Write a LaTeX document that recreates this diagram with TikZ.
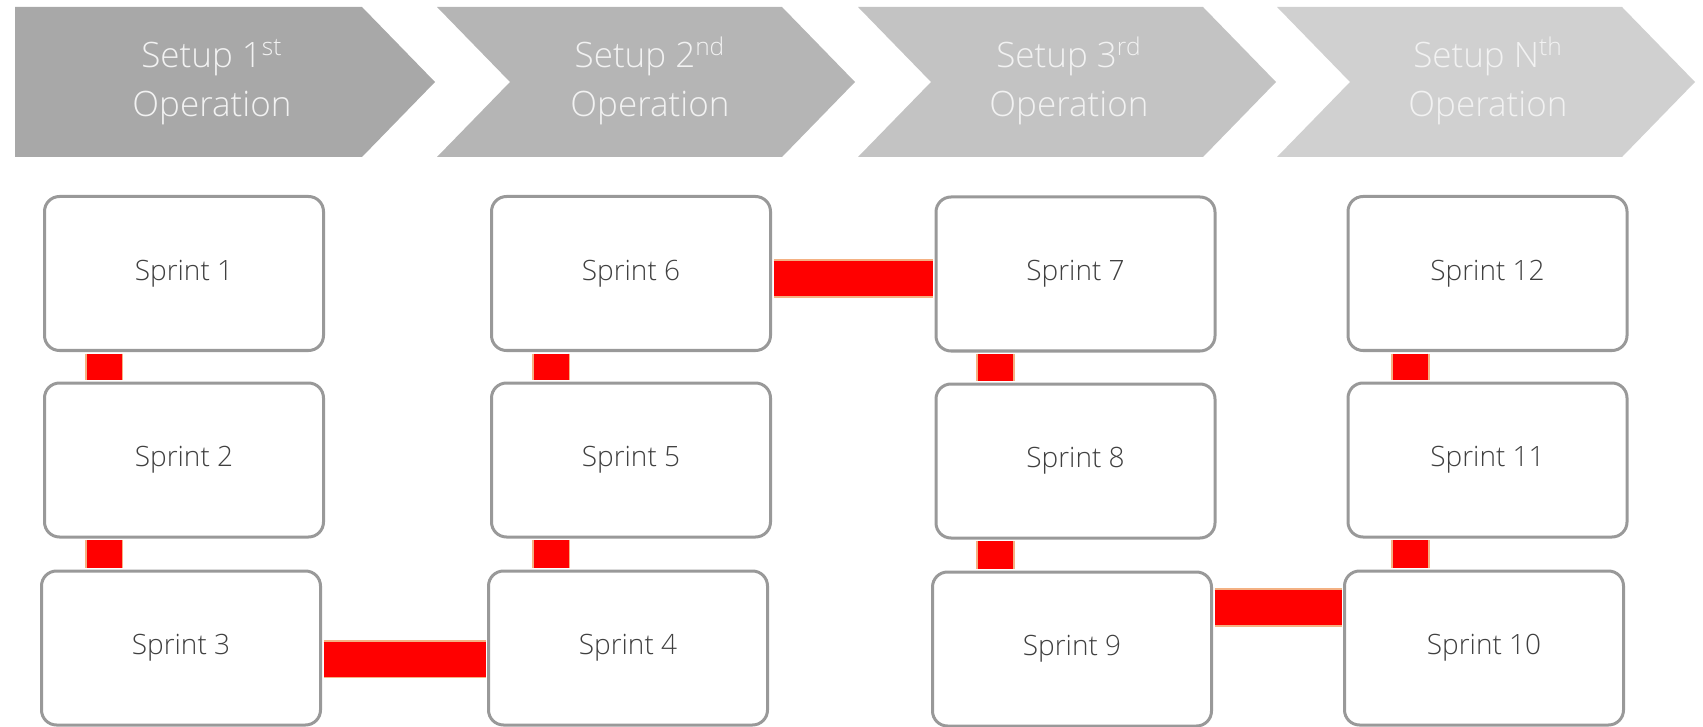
\documentclass[tikz,border=0pt]{standalone}
\usepackage{fontspec}
\IfFontExistsTF{Open Sans Light}{\setmainfont{Open Sans Light}}{\setmainfont{Open Sans}}
\usetikzlibrary{calc}

\definecolor{chevA}{HTML}{A8A8A8}
\definecolor{chevB}{HTML}{B5B5B5}
\definecolor{chevC}{HTML}{C3C3C3}
\definecolor{chevD}{HTML}{D0D0D0}
\definecolor{headtxt}{HTML}{F2F2F2}
\definecolor{boxgray}{HTML}{999999}
\definecolor{sprinttxt}{HTML}{404040}
\definecolor{linkred}{HTML}{FF0000}
\definecolor{linkedge}{HTML}{F4B183}

\begin{document}
\begin{tikzpicture}[x=0.5pt,y=-0.5pt,
  sprint/.style={draw=boxgray, line width=1.5pt, fill=white,
    rounded corners=7.5pt, minimum width=139.5pt, minimum height=77pt,
    inner sep=0pt, text=sprinttxt, font=\fontsize{14}{17}\selectfont},
  redlink/.style={preaction={draw=linkedge, line width=19.1pt},
    draw=linkred, line width=17.5pt, shorten <=0.75pt, shorten >=0.75pt},
  headtext/.style={anchor=base, inner sep=0pt, text=headtxt,
    font=\fontsize{17.5}{21}\selectfont}]

\useasboundingbox (0,0) rectangle (1703,727);

% phase chevrons
\fill[chevA] (15,7) -- (362,7) -- (435,82) -- (362,157) -- (15,157) -- cycle;
\fill[chevB] (437,7) -- (782,7) -- (855,82) -- (782,157) -- (437,157) -- (510,82) -- cycle;
\fill[chevC] (858,7) -- (1203,7) -- (1276,82) -- (1203,157) -- (858,157) -- (931,82) -- cycle;
\fill[chevD] (1277,7) -- (1622,7) -- (1695,82) -- (1622,157) -- (1277,157) -- (1350,82) -- cycle;

\node[headtext] (h1a) at (212,68)  {Setup 1\textsuperscript{st}};
\node[headtext] (h1b) at (212,117) {Operation};
\node[headtext] (h2a) at (650,68)  {Setup 2\textsuperscript{nd}};
\node[headtext] (h2b) at (650,117) {Operation};
\node[headtext] (h3a) at (1069,68)  {Setup 3\textsuperscript{rd}};
\node[headtext] (h3b) at (1069,117) {Operation};
\node[headtext] (h4a) at (1488,68)  {Setup N\textsuperscript{th}};
\node[headtext] (h4b) at (1488,117) {Operation};

% sprint boxes
\node[sprint] (s1)  at (184,273.5)  {Sprint 1};
\node[sprint] (s2)  at (184,460)    {Sprint 2};
\node[sprint] (s3)  at (181,648)    {Sprint 3};
\node[sprint] (s4)  at (628,648)    {Sprint 4};
\node[sprint] (s5)  at (631,460)    {Sprint 5};
\node[sprint] (s6)  at (631,273.5)  {Sprint 6};
\node[sprint] (s7)  at (1075.5,274) {Sprint 7};
\node[sprint] (s8)  at (1075.5,461) {Sprint 8};
\node[sprint] (s9)  at (1072,649)   {Sprint 9};
\node[sprint] (s10) at (1484,648)   {Sprint 10};
\node[sprint] (s11) at (1487.5,460) {Sprint 11};
\node[sprint] (s12) at (1487.5,273.5) {Sprint 12};

% start points of the red links
\coordinate (l12)  at ($(s1.south)+(-80,0)$);
\coordinate (l23)  at ($(s2.south)+(-80,0)$);
\coordinate (l34)  at ($(s3.east)+(0,11)$);
\coordinate (l54)  at ($(s5.south)+(-80,0)$);
\coordinate (l65)  at ($(s6.south)+(-80,0)$);
\coordinate (l67)  at ($(s6.east)+(0,5)$);
\coordinate (l78)  at ($(s7.south)+(-80,0)$);
\coordinate (l89)  at ($(s8.south)+(-80,0)$);
\coordinate (l910) at ($(s9.east)+(0,-41.5)$);
\coordinate (l1211) at ($(s12.south)+(-77,0)$);
\coordinate (l1110) at ($(s11.south)+(-77,0)$);

% red links, ending at the outer edge of each box border
\draw[redlink] (l12) -- (l12 |- s2.north);
\draw[redlink] (l23) -- (l23 |- s3.north);
\draw[redlink] (l34) -- (l34 -| s4.west);
\draw[redlink] (l54) -- (l54 |- s4.north);
\draw[redlink] (l65) -- (l65 |- s5.north);
\draw[redlink] (l67) -- (l67 -| s7.west);
\draw[redlink] (l78) -- (l78 |- s8.north);
\draw[redlink] (l89) -- (l89 |- s9.north);
\draw[redlink] (l910) -- (l910 -| s10.west);
\draw[redlink] (l1211) -- (l1211 |- s11.north);
\draw[redlink] (l1110) -- (l1110 |- s10.north);
\end{tikzpicture}
\end{document}
